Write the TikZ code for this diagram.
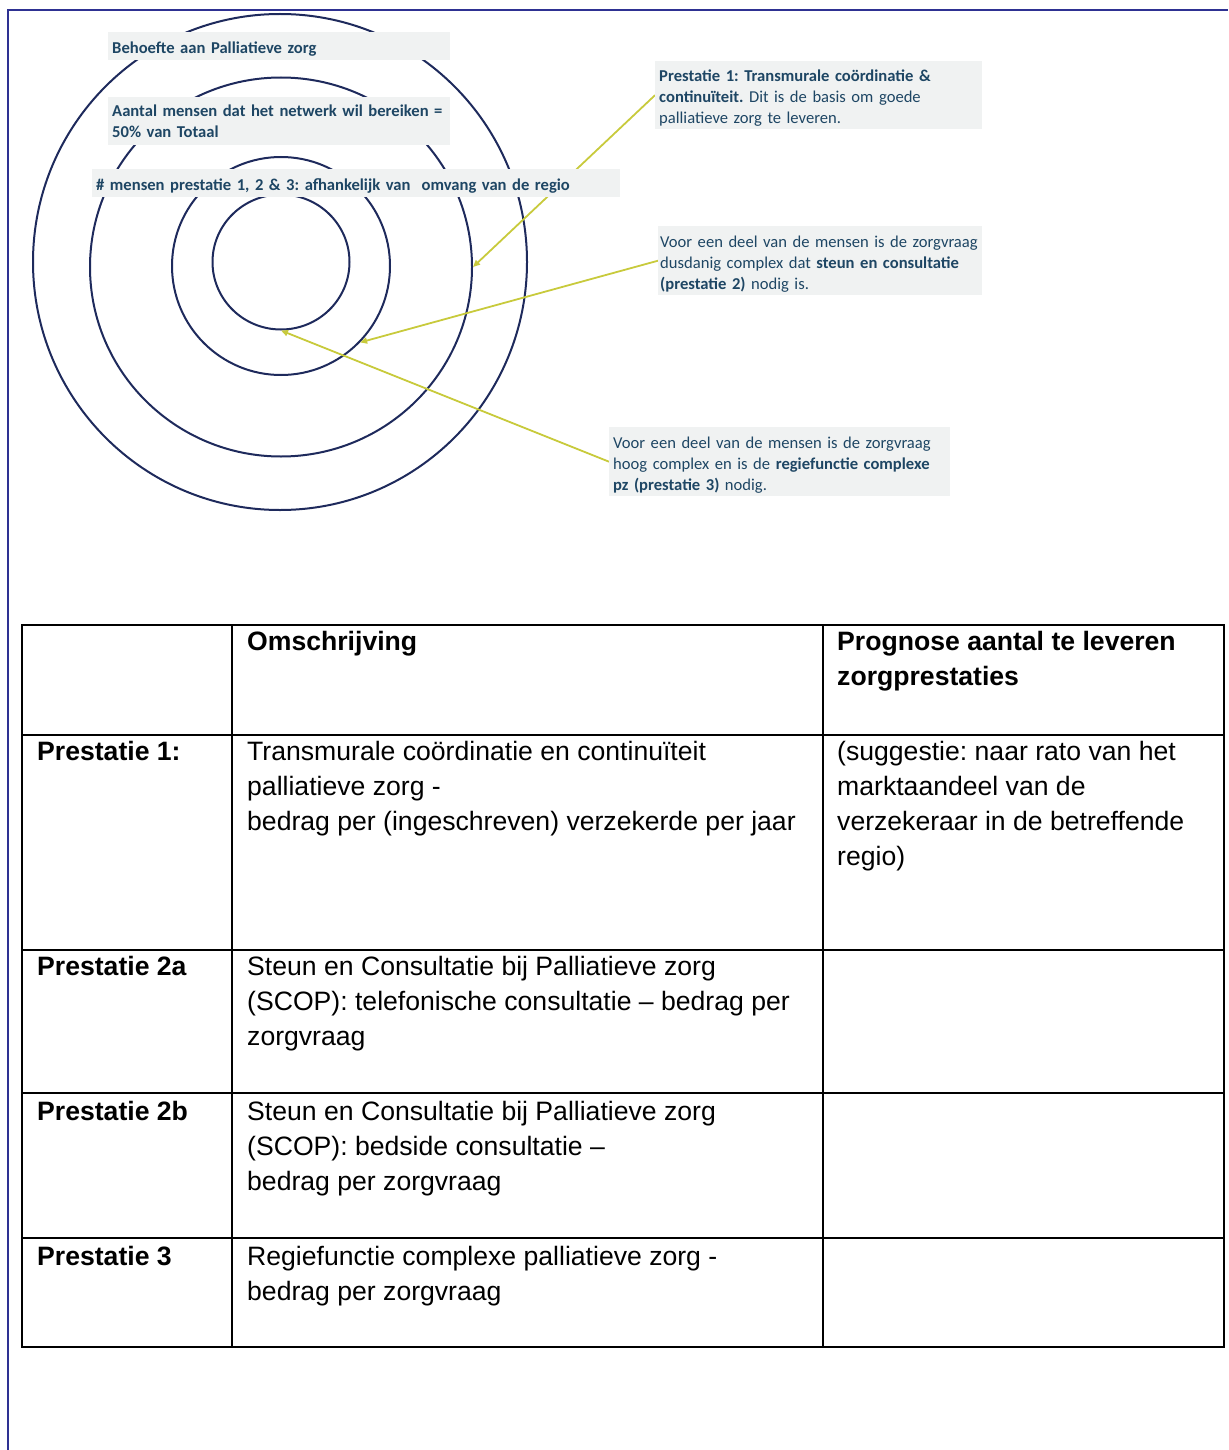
\documentclass[tikz,border=0pt]{standalone}
\usepackage{fontspec}
\setmainfont{Liberation Sans}
\newfontfamily\notefont{Carlito}
\usepackage{xcolor}
\usepackage{tikz}
\usetikzlibrary{arrows.meta, shapes.geometric, backgrounds}

\definecolor{frameblue}{RGB}{46,49,146}
\definecolor{ringblue}{RGB}{30,42,92}
\definecolor{notegray}{RGB}{240,242,242}
\definecolor{notetext}{RGB}{30,70,100}
\definecolor{pointercol}{RGB}{200,202,60}

% taller first line so the note text sits a little lower in its box
\newcommand{\notestrut}{\rule{0pt}{17.5pt}}

\begin{document}
\frenchspacing
\begin{tikzpicture}[x=1pt, y=-1pt,
  ring/.style={draw=ringblue, ellipse, line width=2pt, inner sep=0pt},
  note/.style={fill=notegray, anchor=north west, inner xsep=4pt, inner ysep=0pt, align=left, text=notetext, font=\notefont\fontsize{16.6}{21}\selectfont},
  pointer/.style={-{Triangle[length=7pt, width=6pt]}, draw=pointercol, line width=1.8pt},
  cell/.style={anchor=north west, inner sep=0pt, align=left, font=\fontsize{26.6}{35}\selectfont},
  grid/.style={line width=2pt}
]
  \useasboundingbox (0,0) rectangle (1228,1450);

  % Page frame
  \draw[frameblue, line width=2pt] (7.5,1450) |- (1228,10.5);

  % Nested rings
  \begin{scope}[on background layer]
    \node (ring1) [ring, minimum width=494, minimum height=496] at (280,262) {};
    \node (ring2) [ring, minimum width=382, minimum height=379] at (281,267) {};
    \node (ring3) [ring, minimum width=218, minimum height=218] at (281,266) {};
    \node (ring4) [ring, minimum width=137, minimum height=135] at (281,262) {};
  \end{scope}

  % Ring labels
  \node (behoefte) [note, text width=334, minimum height=28] at (108,32) {\notestrut\textbf{Behoefte aan Palliatieve zorg}};
  \node (bereik) [note, text width=334, minimum height=48] at (108,97) {\textbf{Aantal mensen dat het netwerk wil bereiken =}\\\textbf{50\% van Totaal}};
  \node (omvang) [note, text width=520, minimum height=28] at (92,169) {\notestrut\textbf{\# mensen prestatie 1, 2 \& 3: afhankelijk van\ \ omvang van de regio}};

  % Side notes
  \node (prest1) [note, text width=319, minimum height=68] at (655,61) {\notestrut\textbf{Prestatie 1: Transmurale coördinatie \&}\\\textbf{continuïteit.} Dit is de basis om goede\\palliatieve zorg te leveren.};
  \node (prest2) [note, inner xsep=2pt, text width=320, minimum height=69] at (658,226) {\notestrut Voor een deel van de mensen is de zorgvraag\\dusdanig complex dat \textbf{steun en consultatie}\\\textbf{(prestatie 2)} nodig is.};
  \node (prest3) [note, text width=333, minimum height=69] at (609,427) {\notestrut Voor een deel van de mensen is de zorgvraag\\hoog complex en is de \textbf{regiefunctie complexe}\\\textbf{pz (prestatie 3)} nodig.};

  % Pointers into the rings
  \begin{scope}[on background layer]
    \draw[pointer] (prest1.west) -- (ring2.east);
    \draw[pointer] (prest2.west) -- (ring3.-44);
    \draw[pointer] (prest3.west) -- (ring4.south);
  \end{scope}

  % Table grid
  \draw[grid] (22,625) rectangle (1224,1347);
  \foreach \y in {735,950,1093,1238}
    \draw[grid] (22,\y) -- (1224,\y);
  \foreach \x in {232,823}
    \draw[grid] (\x,625) -- (\x,1347);

  % Header row
  \node (head2) [cell] at (247,631) {\textbf{Omschrijving}};
  \node (head3) [cell] at (837,631) {\textbf{Prognose aantal te leveren}\\\textbf{zorgprestaties}};

  % Rows
  \node (p1) [cell] at (37,741) {\textbf{Prestatie 1:}};
  \node (p1desc) [cell] at (247,741) {Transmurale coördinatie en continuïteit\\palliatieve zorg -\\bedrag per (ingeschreven) verzekerde per jaar};
  \node (p1prog) [cell] at (837,741) {(suggestie: naar rato van het\\marktaandeel van de\\verzekeraar in de betreffende\\regio)};

  \node (p2a) [cell] at (37,956) {\textbf{Prestatie 2a}};
  \node (p2adesc) [cell] at (247,956) {Steun en Consultatie bij Palliatieve zorg\\(SCOP): telefonische consultatie -- bedrag per\\zorgvraag};

  \node (p2b) [cell] at (37,1101) {\textbf{Prestatie 2b}};
  \node (p2bdesc) [cell] at (247,1101) {Steun en Consultatie bij Palliatieve zorg\\(SCOP): bedside consultatie --\\bedrag per zorgvraag};

  \node (p3) [cell] at (37,1246) {\textbf{Prestatie 3}};
  \node (p3desc) [cell] at (247,1246) {Regiefunctie complexe palliatieve zorg -\\bedrag per zorgvraag};

\end{tikzpicture}
\end{document}
